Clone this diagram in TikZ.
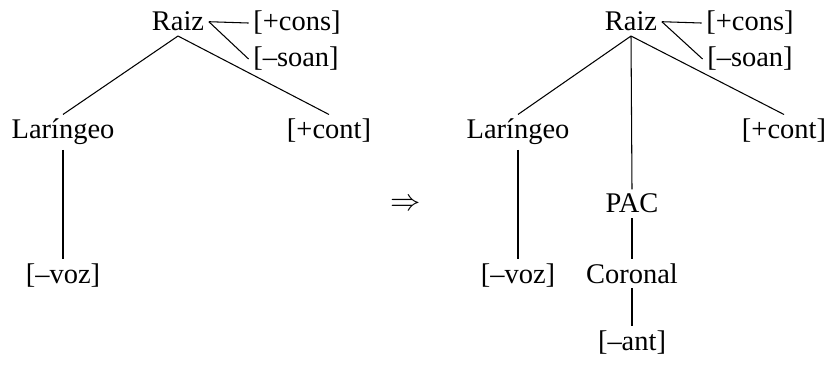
\documentclass[tikz,border=0pt]{standalone}
\usepackage{fontspec}
\setmainfont{Liberation Serif}
\usepackage{tikz}
\usetikzlibrary{positioning}

\begin{document}
\begin{tikzpicture}[
    feat/.style={anchor=base, inner sep=2.5pt, font=\fontsize{16.2}{19}\selectfont},
    ln/.style={line width=0.6pt},
]
\useasboundingbox (0,0) rectangle (16.52,-7.34);
% antes
\node[feat] (raizA) at (3.56, -0.62) {Raiz};
\node[feat] (consA) at (5.94, -0.62) {[+cons]};
\node[feat] (soanA) at (5.92, -1.34) {[–soan]};
\node[feat] (laringA) at (1.26, -2.78) {Laríngeo};
\node[feat] (contA) at (6.58, -2.78) {[+cont]};
\node[feat] (vozA) at (1.26, -5.66) {[–voz]};
\draw[ln] (raizA.east) -- (consA.west);
\draw[ln] (raizA.east) -- (soanA.west);
\draw[ln] (raizA.south) -- (laringA.north);
\draw[ln] (raizA.south) -- (contA.north);
\draw[ln] (laringA.south) -- (vozA.north);
% seta
\node[font=\fontsize{16.2}{19}\selectfont] (seta) at (8.12, -4.1) {$\Rightarrow$};
% depois
\node[feat] (raizB) at (12.62, -0.62) {Raiz};
\node[feat] (consB) at (15.0, -0.62) {[+cons]};
\node[feat] (soanB) at (15.0, -1.34) {[–soan]};
\node[feat] (laringB) at (10.36, -2.78) {Laríngeo};
\node[feat] (contB) at (15.68, -2.78) {[+cont]};
\node[feat] (pacB) at (12.64, -4.26) {PAC};
\node[feat] (vozB) at (10.36, -5.66) {[–voz]};
\node[feat] (coronalB) at (12.64, -5.66) {Coronal};
\node[feat] (antB) at (12.64, -7.0) {[–ant]};
\draw[ln] (raizB.east) -- (consB.west);
\draw[ln] (raizB.east) -- (soanB.west);
\draw[ln] (raizB.south) -- (laringB.north);
\draw[ln] (raizB.south) -- (contB.north);
\draw[ln] (raizB.south) -- (pacB.north);
\draw[ln] (laringB.south) -- (vozB.north);
\draw[ln] (pacB.south) -- (coronalB.north);
\draw[ln] (coronalB.south) -- (antB.north);
\end{tikzpicture}
\end{document}
